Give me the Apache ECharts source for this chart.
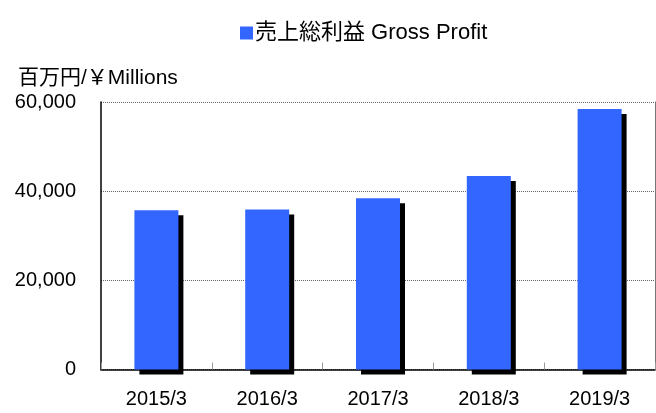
<!DOCTYPE html>
<html>
<head>
<meta charset="utf-8">
<script src="https://cdn.jsdelivr.net/npm/echarts@6/dist/echarts.min.js"></script>
<style>
  html, body { margin: 0; padding: 0; background: #fff; }
  #chart_box { width: 656px; height: 413px; }
</style>
</head>
<body>
<div id="chart_box"></div>
<script>
let years = ['2015/3', '2016/3', '2017/3', '2018/3', '2019/3']
let grossProfit = [35700, 35900, 38400, 43400, 58450]
let yTicks = [0, 20000, 40000, 60000]
let seriesName = '売上総利益 Gross Profit'
let unitLabel = '百万円/￥Millions'

let font = "'Liberation Sans', 'Noto Sans CJK JP', sans-serif"
let myChart = echarts.init(document.getElementById('chart_box'))
let option = {
    animation: false,
    title: {
        text: unitLabel,
        left: 13,
        top: 63,
        textStyle: { fontFamily: font, fontSize: 21, fontWeight: 'normal', color: '#000' }
    },
    legend: {
        data: [seriesName],
        left: 235,
        top: 17,
        icon: 'rect',
        itemWidth: 13,
        itemHeight: 13,
        itemGap: 4,
        textStyle: { fontFamily: font, fontSize: 22, color: '#000', padding: [0, 0, 0, -3] }
    },
    grid: {
        left: 101,
        right: 1,
        top: 102,
        bottom: 43.5,
        outerBoundsMode: 'none'
    },
    xAxis: {
        type: 'category',
        data: years,
        axisLine: { lineStyle: { color: '#000', width: 1.5 } },
        axisTick: {
            show: true,
            inside: true,
            length: 7,
            lineStyle: { color: '#999' }
        },
        axisLabel: { fontFamily: font, fontSize: 20, color: '#000', margin: 20 }
    },
    yAxis: [
        {
            type: 'value',
            min: yTicks[0],
            max: yTicks[yTicks.length - 1],
            interval: yTicks[1] - yTicks[0],
            axisLine: { show: true, lineStyle: { color: '#000', width: 1.5 } },
            axisTick: { show: false },
            splitLine: { lineStyle: { color: '#666', type: 'dotted' } },
            axisLabel: {
                fontFamily: font, fontSize: 20, color: '#000', margin: 25,
                formatter: function (v) { return v.toLocaleString('en-US') }
            }
        },
        {
            type: 'value',
            position: 'right',
            min: yTicks[0],
            max: yTicks[yTicks.length - 1],
            axisLine: { show: true, lineStyle: { color: '#777', width: 1 } },
            axisTick: { show: false },
            axisLabel: { show: false },
            splitLine: { show: false }
        }
    ],
    series: [
        {
            name: seriesName,
            type: 'bar',
            data: grossProfit,
            barWidth: 44,
            itemStyle: {
                color: '#3366ff',
                shadowColor: '#000',
                shadowBlur: 0,
                shadowOffsetX: 5,
                shadowOffsetY: 5
            }
        }
    ]
}
myChart.setOption(option)
</script>
</body>
</html>
